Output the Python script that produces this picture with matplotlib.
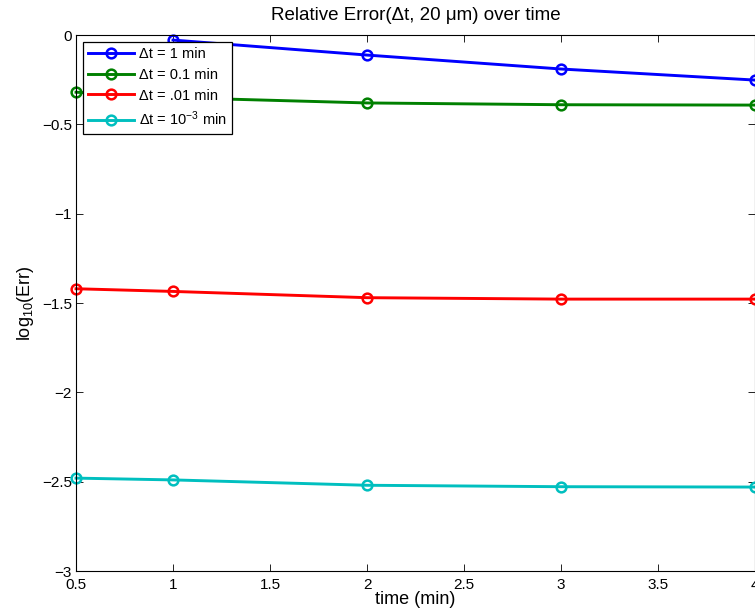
import matplotlib.pyplot as plt
import numpy as np

plt.rcParams["font.family"] = ["Liberation Sans", "DejaVu Sans"]
plt.rcParams["mathtext.default"] = "regular"

time = [0.5, 1, 2, 3, 4]
time_1 = [1, 2, 3, 4]
err_1 = [-0.028, -0.112, -0.19, -0.252]
err_01 = [-0.32, -0.35, -0.38, -0.39, -0.392]
err_001 = [-1.42, -1.435, -1.47, -1.478, -1.478]
err_0001 = [-2.48, -2.49, -2.52, -2.528, -2.53]

labels = ["\u0394t = 1 min", "\u0394t = 0.1 min",
          "\u0394t = .01 min", "\u0394t = 10$^{-3}$ min"]

fig = plt.figure(figsize=(7.55, 6.15), dpi=100)
ax = fig.add_axes([0.1007, 0.0715, 0.8993, 0.8715])

style = dict(marker="o", markerfacecolor="none", markersize=7,
             markeredgewidth=1.8, linewidth=2.1, clip_on=False)
ax.plot(time_1, err_1, color="#0000ff", label=labels[0], **style)
ax.plot(time, err_01, color="#008000", label=labels[1], **style)
ax.plot(time, err_001, color="#ff0000", label=labels[2], **style)
ax.plot(time, err_0001, color="#00bfbf", label=labels[3], **style)

ax.set_xlim(0.5, 4)
ax.set_ylim(-3, 0)
ax.set_xticks(np.arange(0.5, 4.01, 0.5))
ax.set_xticklabels(["0.5", "1", "1.5", "2", "2.5", "3", "3.5", "4"])
ax.set_yticks(np.arange(-3, 0.01, 0.5))
ax.set_yticklabels(["\u22123", "\u22122.5", "\u22122", "\u22121.5", "\u22121", "\u22120.5", "0"])
ax.tick_params(direction="in", top=True, right=True, labelsize=11, length=5,
               width=0.6, pad=3)
ax.tick_params(axis="x", pad=5)
for s in ax.spines.values():
    s.set_linewidth(0.8)

ax.set_xlabel("time (min)", fontsize=13, labelpad=-1)
ax.set_ylabel("log$_{10}$(Err)", fontsize=13, labelpad=4)
ax.set_title("Relative Error(\u0394t, 20 \u03bcm) over time", fontsize=13.5, pad=11)

leg = ax.legend(loc="upper left", fontsize=10.5, fancybox=False, framealpha=1,
                edgecolor="black", borderaxespad=0.45, handlelength=3.1,
                handletextpad=0.35, labelspacing=0.45, borderpad=0.4)
leg.get_frame().set_linewidth(0.9)

fig.savefig("out.png", dpi=100)
